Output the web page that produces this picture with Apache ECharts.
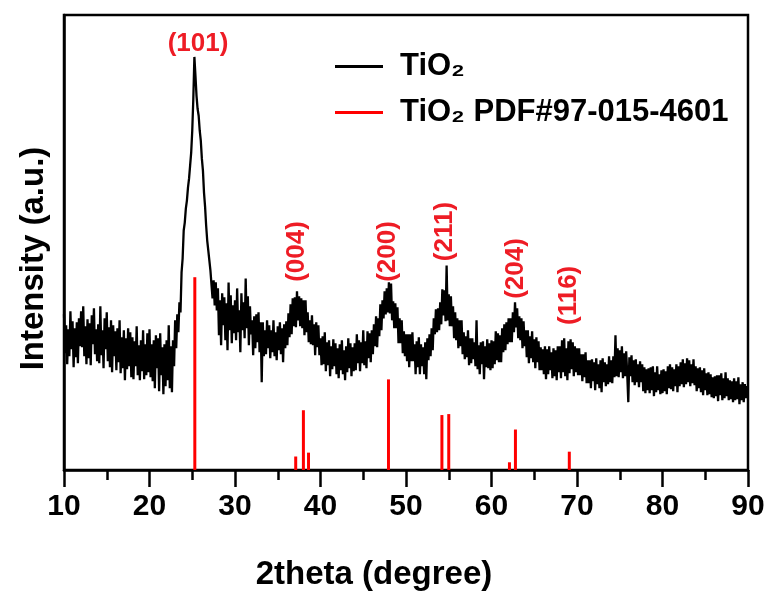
<!DOCTYPE html>
<html>
<head>
<meta charset="utf-8">
<script src="https://cdn.jsdelivr.net/npm/echarts@6/dist/echarts.min.js"></script>
<style>
  html, body { margin: 0; padding: 0; background: #fff; }
  #chart { width: 770px; height: 599px; }
</style>
</head>
<body>
<div id="chart"></div>
<script>
// measured scan, 10 - 90 deg, 0.125 deg step (16 points per 2 deg row)
var scanStart = 10;
var scanStep = 0.125;
var intensity = [
  156, 117, 145, 106, 141, 114, 159, 121, 149, 103, 142, 113, 148, 107, 152, 124,
  159, 123, 164, 114, 144, 106, 151, 112, 147, 105, 155, 126, 162, 116, 141, 109,
  146, 107, 164, 115, 140, 102, 152, 121, 158, 109, 143, 103, 150, 98, 145, 114,
  139, 100, 142, 108, 150, 97, 133, 102, 140, 90, 132, 101, 142, 104, 138, 93,
  133, 91, 129, 104, 144, 95, 125, 90, 130, 99, 140, 91, 126, 95, 137, 98,
  141, 93, 126, 89, 130, 82, 135, 102, 132, 79, 137, 95, 123, 76, 126, 84,
  130, 90, 145, 82, 124, 78, 130, 104, 150, 122, 156, 138, 168, 158, 198, 212,
  240, 248, 262, 270, 283, 292, 305, 318, 340, 372, 414, 395, 375, 362, 355, 340,
  330, 312, 300, 278, 264, 245, 230, 220, 210, 200, 198, 172, 190, 165, 188, 160,
  182, 135, 170, 125, 177, 145, 173, 130, 167, 120, 188, 140, 175, 127, 165, 137,
  170, 130, 182, 138, 160, 118, 177, 140, 168, 132, 192, 142, 174, 125, 164, 136,
  150, 115, 154, 122, 156, 128, 158, 118, 148, 88, 148, 114, 140, 116, 150, 122,
  145, 112, 140, 118, 150, 114, 138, 110, 144, 120, 148, 116, 142, 108, 146, 122,
  149, 125, 157, 133, 166, 136, 172, 144, 173, 143, 179, 150, 174, 144, 172, 142,
  170, 135, 170, 138, 158, 128, 150, 126, 155, 125, 146, 115, 148, 123, 145, 115,
  132, 105, 134, 106, 138, 99, 128, 105, 130, 94, 124, 101, 131, 104, 127, 96,
  122, 92, 126, 100, 130, 96, 120, 90, 124, 98, 132, 102, 127, 94, 123, 99,
  127, 100, 136, 107, 130, 99, 128, 107, 140, 105, 129, 102, 139, 112, 137, 108,
  140, 116, 146, 124, 154, 123, 152, 134, 166, 140, 170, 152, 179, 156, 182, 158,
  188, 157, 187, 150, 169, 142, 167, 142, 163, 127, 152, 127, 150, 117, 139, 114,
  136, 109, 136, 103, 136, 109, 138, 109, 126, 96, 129, 103, 133, 96, 126, 104,
  123, 96, 128, 91, 132, 110, 136, 114, 142, 120, 152, 136, 161, 138, 162, 140,
  168, 146, 181, 155, 180, 149, 205, 150, 176, 144, 174, 144, 164, 132, 158, 130,
  152, 122, 150, 124, 150, 116, 138, 111, 134, 113, 140, 105, 132, 107, 132, 111,
  128, 104, 150, 101, 125, 96, 128, 106, 129, 91, 124, 103, 131, 102, 127, 100,
  130, 102, 129, 106, 139, 110, 137, 108, 135, 108, 142, 118, 146, 120, 148, 126,
  152, 128, 152, 128, 158, 138, 168, 143, 162, 132, 154, 130, 152, 122, 149, 124,
  140, 113, 140, 107, 134, 112, 139, 108, 131, 102, 133, 108, 129, 100, 123, 100,
  121, 96, 124, 91, 121, 96, 124, 100, 118, 92, 122, 94, 120, 90, 124, 98,
  124, 92, 130, 98, 132, 94, 122, 90, 129, 97, 131, 101, 128, 94, 124, 98,
  122, 95, 122, 95, 116, 89, 116, 93, 118, 87, 110, 87, 110, 82, 111, 89,
  108, 80, 112, 86, 106, 82, 110, 78, 112, 88, 108, 84, 106, 86, 114, 88,
  110, 87, 114, 93, 135, 94, 122, 93, 120, 98, 124, 92, 117, 94, 119, 96,
  68, 113, 94, 115, 88, 110, 85, 111, 88, 106, 83, 109, 88, 106, 79, 103,
  77, 101, 80, 102, 77, 103, 80, 104, 74, 98, 78, 104, 80, 96, 76, 100,
  77, 101, 79, 99, 76, 104, 82, 106, 81, 103, 79, 101, 84, 106, 78, 104,
  84, 108, 86, 111, 83, 107, 86, 112, 88, 110, 84, 106, 87, 111, 85, 104,
  79, 102, 82, 103, 78, 100, 75, 102, 80, 97, 75, 98, 76, 96, 73, 93,
  72, 94, 74, 95, 69, 95, 75, 97, 70, 92, 72, 98, 74, 92, 70, 90,
  71, 89, 68, 92, 70, 89, 71, 93, 66, 86, 70, 88, 68, 86, 72, 84,
  80
];

// reference card PDF#97-015-4601
var refAngles = [25.3, 37.1, 38.0, 38.6, 47.95, 54.2, 55.0, 62.1, 62.8, 69.1];
var refIntensity = [100, 7, 31, 9, 47, 28.5, 29, 4, 21, 9.5];

// (hkl) annotations
var hklNames = ['(101)', '(004)', '(200)', '(211)', '(204)', '(116)'];
var hklAngles = [25.67, 37.19, 47.9, 54.5, 62.87, 69.06];
var hklHeights = [427, 219, 219, 239, 202, 175];

var xTicks = [10, 20, 30, 40, 50, 60, 70, 80, 90];

var font = "'Liberation Sans', Arial, sans-serif";
var scanData = intensity.map(function (v, i) { return [scanStart + i * scanStep, v]; });
var refData = refAngles.map(function (a, i) { return [a, refIntensity[i]]; });
var hklData = hklNames.map(function (n, i) {
  return { value: [hklAngles[i], hklHeights[i]], name: n,
    label: { rotate: i === 0 ? 0 : 90 } };
});

var myChart = echarts.init(document.getElementById('chart'));
var option = {
  animation: false,
  backgroundColor: '#fff',
  grid: {
    left: 64, right: 22, top: 15, bottom: 129,
    show: true, borderColor: '#000', borderWidth: 2.5
  },
  legend: {
    orient: 'vertical',
    left: 330,
    top: 46,
    itemWidth: 48,
    itemHeight: 3,
    itemGap: 15,
    textStyle: {
      fontFamily: font, fontSize: 31, fontWeight: 'bold', color: '#000',
      lineHeight: 31, padding: [0, 0, 0, 12]
    },
    data: [
      { name: 'TiO₂', icon: 'rect', itemStyle: { color: '#000' } },
      { name: 'TiO₂ PDF#97-015-4601', icon: 'rect', itemStyle: { color: '#ff0000' } }
    ]
  },
  xAxis: {
    type: 'value',
    min: 10, max: 90, interval: 10,
    name: '2theta (degree)',
    nameLocation: 'middle',
    nameGap: 88,
    nameTextStyle: {
      fontFamily: font, fontSize: 33, fontWeight: 'bold', color: '#000',
      padding: [0, 64, 0, 0]
    },
    axisLine: { show: true, lineStyle: { color: '#000', width: 2.5 } },
    axisTick: { show: true, inside: false, length: 17, lineStyle: { color: '#000', width: 2.5 } },
    minorTick: { show: true, splitNumber: 2, length: 10, lineStyle: { color: '#000', width: 2.5 } },
    axisLabel: {
      fontFamily: font, fontSize: 30, fontWeight: 'bold', color: '#000', margin: 22,
      formatter: function (v) { return xTicks.indexOf(v) >= 0 ? String(v) : ''; }
    },
    splitLine: { show: false }
  },
  yAxis: [{
    type: 'value',
    min: 0, max: 456,
    name: 'Intensity (a.u.)',
    nameLocation: 'middle',
    nameGap: 14,
    nameTextStyle: {
      fontFamily: font, fontSize: 33, fontWeight: 'bold', color: '#000',
      padding: [0, 32, 0, 0]
    },
    axisLine: { show: true, lineStyle: { color: '#000', width: 2.5 } },
    axisTick: { show: false },
    axisLabel: { show: false },
    splitLine: { show: false }
  }, {
    type: 'value',
    show: false,
    min: 0, max: 236,
    splitLine: { show: false }
  }],
  series: [{
    name: 'TiO₂',
    type: 'line',
    data: scanData,
    showSymbol: false,
    symbol: 'none',
    color: '#000',
    lineStyle: { color: '#000', width: 2.3 },
    z: 3
  }, {
    name: 'TiO₂ PDF#97-015-4601',
    type: 'bar',
    yAxisIndex: 1,
    data: refData,
    barWidth: 3,
    color: '#ff0000',
    itemStyle: { color: '#ff0000' },
    z: 2
  }, {
    type: 'scatter',
    data: hklData,
    symbolSize: 0,
    silent: true,
    color: '#ee1c25',
    itemStyle: { opacity: 1 },
    label: {
      show: true,
      position: 'inside',
      formatter: '{b}',
      fontFamily: font, fontSize: 26, fontWeight: 'bold', color: '#ee1c25',
      textBorderWidth: 0, opacity: 1
    },
    z: 4
  }]
};
myChart.setOption(option, true);
window.addEventListener('resize', function () {
  myChart.resize();
});
</script>
</body>
</html>
